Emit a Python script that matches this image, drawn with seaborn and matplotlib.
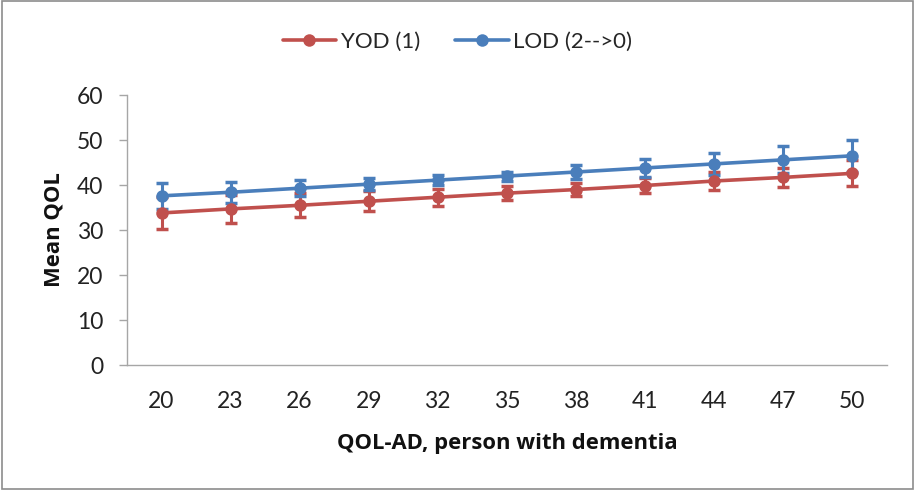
import numpy as np
import pandas as pd
import matplotlib
matplotlib.use("Agg")
import matplotlib.pyplot as plt
import seaborn as sns
from matplotlib.patches import Rectangle

categories = ["20", "23", "26", "29", "32", "35", "38", "41", "44", "47", "50"]
yod_mean = [33.8, 34.7, 35.5, 36.4, 37.3, 38.2, 39.0, 39.9, 40.9, 41.7, 42.6]
yod_err = [3.6, 3.2, 2.7, 2.2, 1.9, 1.6, 1.5, 1.6, 1.9, 2.2, 2.9]
lod_mean = [37.6, 38.4, 39.3, 40.2, 41.1, 42.0, 42.9, 43.8, 44.7, 45.6, 46.5]
lod_err = [2.9, 2.3, 1.8, 1.4, 1.1, 1.0, 1.5, 2.0, 2.5, 3.0, 3.6]
series_names = ["YOD (1)", "LOD (2-->0)"]
colors = {"YOD (1)": "#C0504D", "LOD (2-->0)": "#4A7EBB"}

sns.set_theme(style="white")
plt.rcParams["font.family"] = ["Lato", "DejaVu Sans"]

pos = np.arange(len(categories))
df = pd.DataFrame({
    "pos": np.concatenate([pos, pos]),
    "mean": yod_mean + lod_mean,
    "err": yod_err + lod_err,
    "group": [series_names[0]] * len(pos) + [series_names[1]] * len(pos),
})

fig = plt.figure(figsize=(9.15, 4.9), dpi=100)
ax = fig.add_axes([0.1388, 0.255, 0.969 - 0.1388, 0.806 - 0.255])

for name in series_names:
    sub = df[df["group"] == name]
    ax.errorbar(sub["pos"], sub["mean"], yerr=sub["err"], fmt="none",
                ecolor=colors[name], elinewidth=2.2, capsize=4, capthick=2.5, zorder=2)

sns.lineplot(data=df, x="pos", y="mean", hue="group", hue_order=series_names,
             palette=colors, marker="o", markersize=9, markeredgewidth=0,
             linewidth=2.6, ax=ax, zorder=3)

ax.set_xlim(-0.5, len(categories) - 0.5)
ax.set_ylim(0, 60)
ax.set_yticks(range(0, 61, 10))
ax.set_xticks(pos)
ax.set_xticklabels(categories)
ax.set_xticks(np.arange(-0.5, len(categories), 1.0), minor=True)
ax.tick_params(axis="x", which="major", length=0, pad=19, labelsize=16.5, colors="#222222")
ax.tick_params(axis="x", which="minor", length=6, width=1, color="#A6A6A6", direction="out")
ax.tick_params(axis="y", which="major", length=6, width=1, color="#A6A6A6", direction="out",
               labelsize=16.5, labelcolor="#222222", pad=11, left=True)
for s in ["top", "right"]:
    ax.spines[s].set_visible(False)
for s in ["left", "bottom"]:
    ax.spines[s].set_color("#A6A6A6")
    ax.spines[s].set_linewidth(1)

ax.set_xlabel("QOL-AD, person with dementia", fontsize=15.8, fontweight="bold", labelpad=15,
              color="#111111", family=["Open Sans", "DejaVu Sans"])
ax.set_ylabel("Mean QOL", fontsize=15.8, fontweight="bold", labelpad=9,
              color="#111111", family=["Open Sans", "DejaVu Sans"])

handles, labels = ax.get_legend_handles_labels()
ax.legend(handles, labels, loc="center", bbox_to_anchor=(0.5, 1 - 42 / 490), bbox_transform=fig.transFigure,
          ncol=2, frameon=False, fontsize=16, handlelength=2.4, columnspacing=1.6, handletextpad=0.2)

fig.patches.append(Rectangle((0.002, 0.002), 0.996, 0.996, transform=fig.transFigure,
                             fill=False, edgecolor="#8C8C8C", linewidth=1.2))

fig.savefig("out.png", dpi=100)
